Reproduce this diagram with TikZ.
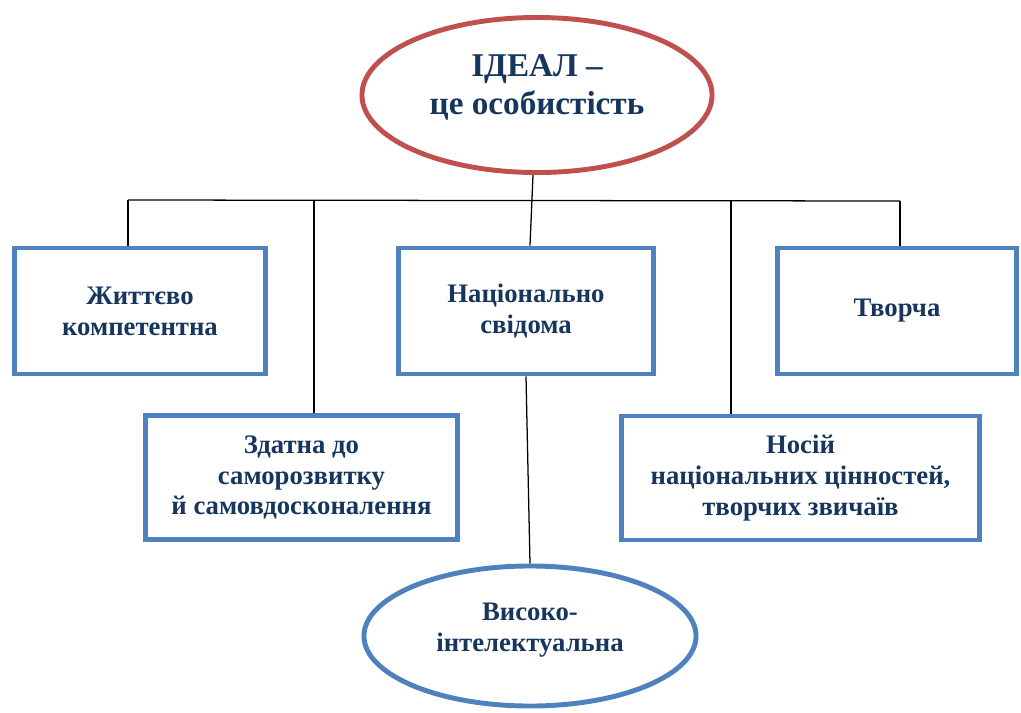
\documentclass[tikz,border=0pt]{standalone}
\usepackage{fontspec}
\setmainfont{Liberation Serif}
\usetikzlibrary{shapes.geometric}

\definecolor{idealred}{RGB}{192,80,77}
\definecolor{boxblue}{RGB}{79,129,189}
\definecolor{textnavy}{HTML}{17365D}

\tikzset{
  quality/.style={draw=boxblue, line width=3.5pt, rectangle, align=center,
    text=textnavy, inner sep=0pt, minimum height=3.15cm,
    font=\fontsize{19}{22}\selectfont\bfseries},
  oval/.style={ellipse, line width=3.5pt, inner sep=0pt},
  ovaltext/.style={align=center, text=textnavy, inner sep=0pt},
  link/.style={black, line width=0.9pt}
}

\begin{document}
\begin{tikzpicture}[x=0.025cm, y=-0.025cm]
    \useasboundingbox (0, 0) rectangle (1021, 712);

    % The ideal at the top
    \node[oval, draw=idealred, minimum width=8.75cm, minimum height=3.875cm,
          label={[ovaltext, yshift=0.2cm,
                  font=\fontsize{23.6}{27}\selectfont\bfseries]
                 center:ІДЕАЛ --\\це особистість}]
      (ideal) at (537, 95) {};

    % Upper row of qualities
    \node[quality, minimum width=6.275cm] (zhyt) at (140, 311)
      {Життєво\\компетентна};
    \node[quality, minimum width=6.375cm] (nats) at (526, 311)
      {Національно\\свідома};
    \node[quality, minimum width=5.975cm] (tvor) at (897, 311) {Творча};

    % Lower row of qualities
    \node[quality, minimum width=7.8cm, minimum height=3.1cm] (zdat)
      at (301.5, 477.5) {Здатна до\\саморозвитку\\й самовдосконалення};
    \node[quality, minimum width=8.95cm, minimum height=3.1cm] (nosi)
      at (800.5, 478) {Носій\\національних цінностей,\\творчих звичаїв};

    % Bottom oval
    \node[oval, draw=boxblue, minimum width=8.3cm, minimum height=3.5cm,
          label={[ovaltext, yshift=0.15cm,
                  font=\fontsize{19}{22}\selectfont\bfseries]
                 center:Високо-\\інтелектуальна}]
      (vysok) at (530, 636) {};

    % Points on the bus line
    \coordinate (busL) at (128, 200);
    \coordinate (busZ) at (314, 201);
    \coordinate (busN) at (731, 201);
    \coordinate (busR) at (900, 201);

    % Drawing the connectors
    \draw[link] (busL) -- (busR);
    \draw[link] (busL) -- (busL |- zhyt.north);
    \draw[link] (busZ) -- (busZ |- zdat.north);
    \draw[link] (busN) -- (busN |- nosi.north);
    \draw[link] (busR) -- (busR |- tvor.north);
    \draw[link] ([xshift=-0.1cm]ideal.south) -- ([xshift=0.1cm]nats.north);
    \draw[link] (nats.south) -- (vysok.north);
  \end{tikzpicture}
\end{document}
